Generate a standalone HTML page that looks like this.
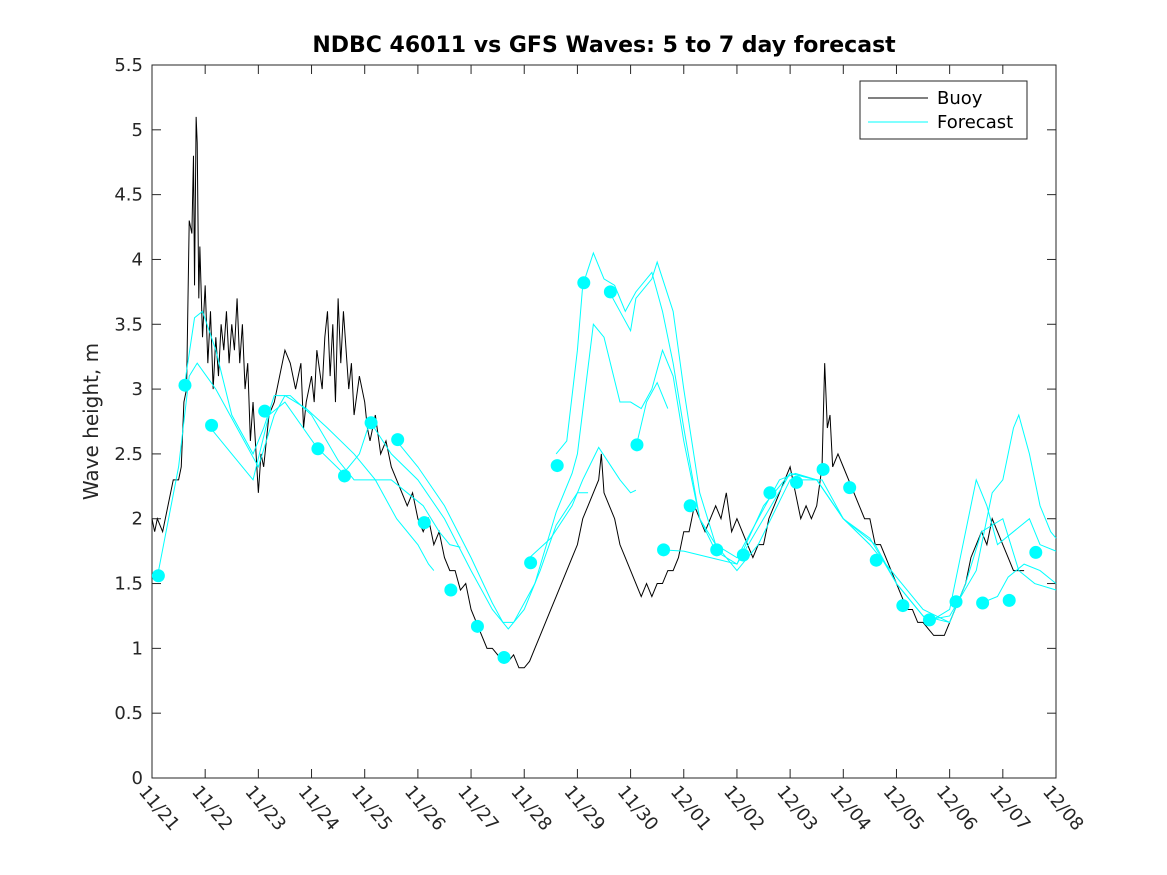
<!DOCTYPE html>
<html><head><meta charset="utf-8"><style>
body{margin:0;background:#fff;}
svg{display:block;font-family:"DejaVu Sans","Liberation Sans",sans-serif;}
</style></head><body>
<svg id="chart" width="1167" height="875"></svg>
<script>
const dateLabels=["11/21","11/22","11/23","11/24","11/25","11/26","11/27","11/28","11/29","11/30","12/01","12/02","12/03","12/04","12/05","12/06","12/07","12/08"];
const yTicks=[0,0.5,1,1.5,2,2.5,3,3.5,4,4.5,5,5.5];
const buoyDays=[0,0.05,0.1,0.2,0.3,0.4,0.5,0.55,0.6,0.65,0.7,0.75,0.78,0.8,0.83,0.85,0.88,0.9,0.95,1.0,1.05,1.1,1.15,1.2,1.25,1.3,1.35,1.4,1.45,1.5,1.55,1.6,1.65,1.7,1.75,1.8,1.85,1.9,2.0,2.05,2.1,2.2,2.3,2.4,2.5,2.6,2.7,2.8,2.85,2.9,3.0,3.05,3.1,3.2,3.25,3.3,3.35,3.4,3.45,3.5,3.55,3.6,3.7,3.75,3.8,3.9,4.0,4.05,4.1,4.2,4.3,4.4,4.5,4.6,4.7,4.8,4.9,5.0,5.1,5.2,5.3,5.4,5.5,5.6,5.7,5.8,5.9,6.0,6.1,6.2,6.3,6.4,6.5,6.6,6.7,6.8,6.9,7.0,7.1,7.2,7.3,7.4,7.5,7.6,7.7,7.8,7.9,8.0,8.1,8.2,8.3,8.4,8.45,8.5,8.6,8.7,8.8,8.9,9.0,9.1,9.2,9.3,9.4,9.5,9.6,9.7,9.8,9.9,10.0,10.1,10.2,10.3,10.4,10.5,10.6,10.7,10.8,10.9,11.0,11.1,11.2,11.3,11.4,11.5,11.6,11.7,11.8,11.9,12.0,12.1,12.2,12.3,12.4,12.5,12.6,12.65,12.7,12.75,12.8,12.9,13.0,13.1,13.2,13.3,13.4,13.5,13.6,13.7,13.8,13.9,14.0,14.1,14.2,14.3,14.4,14.5,14.6,14.7,14.8,14.9,15.0,15.1,15.2,15.3,15.4,15.5,15.6,15.7,15.8,15.9,16.0,16.1,16.2,16.3,16.4,16.5];
const buoyVals=[2.0,1.9,2.0,1.9,2.1,2.3,2.3,2.4,2.9,3.0,4.3,4.2,4.8,3.8,5.1,4.9,3.7,4.1,3.4,3.8,3.2,3.6,3.0,3.4,3.1,3.5,3.3,3.6,3.2,3.5,3.3,3.7,3.2,3.5,3.0,3.2,2.6,2.9,2.2,2.5,2.4,2.8,2.9,3.1,3.3,3.2,3.0,3.2,2.7,2.9,3.1,2.9,3.3,3.0,3.4,3.6,3.1,3.5,2.9,3.7,3.2,3.6,3.0,3.2,2.8,3.1,2.9,2.7,2.6,2.8,2.5,2.6,2.4,2.3,2.2,2.1,2.2,2.0,1.9,2.0,1.8,1.9,1.7,1.6,1.6,1.45,1.5,1.3,1.2,1.1,1.0,1.0,0.95,0.9,0.9,0.95,0.85,0.85,0.9,1.0,1.1,1.2,1.3,1.4,1.5,1.6,1.7,1.8,2.0,2.1,2.2,2.3,2.5,2.2,2.1,2.0,1.8,1.7,1.6,1.5,1.4,1.5,1.4,1.5,1.5,1.6,1.6,1.7,1.9,1.9,2.1,2.0,1.9,2.0,2.1,2.0,2.2,1.9,2.0,1.9,1.8,1.7,1.8,1.8,2.0,2.1,2.2,2.3,2.4,2.2,2.0,2.1,2.0,2.1,2.4,3.2,2.7,2.8,2.4,2.5,2.4,2.3,2.2,2.1,2.0,2.0,1.8,1.8,1.7,1.6,1.5,1.4,1.3,1.3,1.2,1.2,1.15,1.1,1.1,1.1,1.2,1.3,1.4,1.5,1.7,1.8,1.9,1.8,2.0,1.9,1.8,1.7,1.6,1.6,1.6];
const fc1=[[0.1,1.55],[0.5,2.4],[0.7,3.1],[0.85,3.2],[1.2,3.0],[1.6,2.7],[2.0,2.4],[2.3,2.8],[2.5,2.95],[2.9,2.85],[3.3,2.7],[3.8,2.5],[4.2,2.3],[4.6,2.0],[5.0,1.8],[5.2,1.65],[5.3,1.6]];
const fc2=[[0.6,3.0],[0.8,3.55],[0.95,3.6],[1.2,3.3],[1.5,2.8],[1.9,2.5],[2.1,2.7],[2.3,2.95],[2.6,2.95],[3.0,2.8],[3.5,2.45],[3.8,2.3],[4.2,2.3],[4.5,2.3],[4.8,2.2],[5.1,2.1],[5.4,1.9],[5.6,1.8],[5.8,1.78]];
const fc3=[[1.1,2.7],[1.5,2.5],[1.9,2.3],[2.2,2.8],[2.5,2.9],[3.1,2.55],[3.6,2.35],[3.9,2.5],[4.1,2.75],[4.5,2.5],[5.0,2.3],[5.5,2.0],[6.0,1.6],[6.4,1.3],[6.7,1.15],[7.0,1.3],[7.3,1.6],[7.6,1.95],[8.0,2.2],[8.2,2.2]];
const fc4=[[4.6,2.6],[5.0,2.4],[5.5,2.1],[6.0,1.7],[6.4,1.35],[6.6,1.2],[6.8,1.2],[7.2,1.5],[7.6,2.05],[7.9,2.35],[8.0,2.5],[8.3,3.5],[8.5,3.4],[8.8,2.9],[9.0,2.9],[9.2,2.85],[9.4,3.0],[9.6,3.3],[9.8,3.1],[10.0,2.6],[10.3,2.0],[10.6,1.8],[11.0,1.7],[11.4,2.0],[11.8,2.3],[12.1,2.35],[12.5,2.3],[13.0,2.0],[13.5,1.8]];
const fc5=[[7.1,1.7],[7.5,1.85],[7.9,2.1],[8.1,2.3],[8.4,2.55],[8.8,2.3],[9.0,2.2],[9.1,2.22]];
const fc6=[[7.6,2.5],[7.8,2.6],[8.0,3.3],[8.1,3.8],[8.3,4.05],[8.5,3.85],[8.7,3.8],[8.9,3.6],[9.1,3.75],[9.4,3.9],[9.6,3.6],[9.8,3.2],[10.0,2.7],[10.3,2.0],[10.6,1.75],[11.0,1.65],[11.5,2.0],[12.0,2.35],[12.5,2.3],[13.0,2.0],[13.5,1.8],[14.0,1.55],[14.5,1.3],[15.0,1.2]];
const fc7=[[8.6,3.75],[8.8,3.6],[9.0,3.45],[9.1,3.7],[9.4,3.85],[9.5,3.98],[9.8,3.6],[10.0,3.0],[10.3,2.2],[10.6,1.8],[11.0,1.6],[11.4,1.8],[12.0,2.3],[12.6,2.3],[13.0,2.0],[13.6,1.8],[14.0,1.5],[14.6,1.2],[15.0,1.3],[15.3,1.9],[15.5,2.3],[15.7,2.1],[15.9,1.8],[16.2,1.9],[16.5,2.0],[16.7,1.8],[17,1.75]];
const fc8=[[9.1,2.55],[9.3,2.9],[9.5,3.05],[9.6,2.95],[9.7,2.85]];
const fc9=[[9.6,1.76],[10.0,1.75],[10.5,1.7],[11.0,1.65],[11.5,2.1],[12.0,2.35],[12.5,2.3],[13.0,2.0],[13.5,1.85],[14.0,1.5],[14.5,1.25],[15.0,1.2],[15.3,1.5],[15.6,1.9],[16.0,2.0],[16.3,1.6],[16.6,1.5],[17,1.45]];
const fc10=[[14.6,1.22],[15.0,1.25],[15.5,1.6],[15.8,2.2],[16.0,2.3],[16.2,2.7],[16.3,2.8],[16.5,2.5],[16.7,2.1],[16.9,1.9],[17,1.85]];
const fc11=[[15.6,1.35],[15.9,1.4],[16.1,1.55],[16.4,1.65],[16.7,1.6],[17,1.5]];
const forecasts=[fc1,fc2,fc3,fc4,fc5,fc6,fc7,fc8,fc9,fc10,fc11];
const dotDays=[0.12,0.62,1.12,2.12,3.12,3.62,4.12,4.62,5.12,5.62,6.12,6.62,7.12,7.62,8.12,8.62,9.12,9.62,10.12,10.62,11.12,11.62,12.12,12.62,13.12,13.62,14.12,14.62,15.12,15.62,16.12,16.62];
const dotVals=[1.56,3.03,2.72,2.83,2.54,2.33,2.74,2.61,1.97,1.45,1.17,0.93,1.66,2.41,3.82,3.75,2.57,1.76,2.10,1.76,1.72,2.20,2.28,2.38,2.24,1.68,1.33,1.22,1.36,1.35,1.37,1.74];

const L=152,R=1056,T=65,B=778;
const xs=d=>L+(R-L)*d/17;
const ys=v=>B-(B-T)*v/5.5;
const NS="http://www.w3.org/2000/svg";
const svg=document.getElementById('chart');
function mk(tag,attrs,parent){const e=document.createElementNS(NS,tag);for(const k in attrs)e.setAttribute(k,attrs[k]);(parent||svg).appendChild(e);return e;}

const axes=mk('rect',{x:L,y:T,width:R-L,height:B-T,fill:'#fff',stroke:'#262626','stroke-width':1});



yTicks.forEach(v=>{
  const y=ys(v);
  mk('line',{x1:L,x2:L+9,y1:y,y2:y,stroke:'#262626'});
  mk('line',{x1:R,x2:R-9,y1:y,y2:y,stroke:'#262626'});
  const t=mk('text',{x:L-9,y:y+6,'text-anchor':'end','font-size':18,fill:'#262626'});
  t.textContent=String(v);
  
  
});
dateLabels.forEach((s,i)=>{
  const x=xs(i);
  mk('line',{x1:x,x2:x,y1:B,y2:B-9,stroke:'#262626'});
  mk('line',{x1:x,x2:x,y1:T,y2:T+9,stroke:'#262626'});
  const t=mk('text',{x:x-14,y:B+14,'font-size':18,fill:'#262626',transform:`rotate(50 ${x-14} ${B+14})`});
  t.textContent=s;
  
  
});

const bp=mk('polyline',{points:buoyDays.map((d,i)=>xs(d)+','+ys(buoyVals[i])).join(' '),fill:'none',stroke:'#000','stroke-width':1});



forecasts.forEach(f=>{
  const p=mk('polyline',{points:f.map(q=>xs(q[0])+','+ys(q[1])).join(' '),fill:'none',stroke:'#00ffff','stroke-width':1});
  
  
});
dotDays.forEach((d,i)=>{
  const c=mk('circle',{cx:xs(d),cy:ys(dotVals[i]),r:6.5,fill:'#00ffff'});
  
  
});

const title=mk('text',{x:(L+R)/2,y:52,'text-anchor':'middle','font-size':22,'font-weight':'bold',fill:'#000'});
title.textContent='NDBC 46011 vs GFS Waves: 5 to 7 day forecast';


const yl=mk('text',{x:98,y:(T+B)/2,'text-anchor':'middle','font-size':20,fill:'#262626',transform:`rotate(-90 98 ${(T+B)/2})`});
yl.textContent='Wave height, m';



const lg=mk('g',{});


mk('rect',{x:860,y:81,width:167,height:58,fill:'#fff',stroke:'#262626'},lg);
mk('line',{x1:868,x2:928,y1:98,y2:98,stroke:'#000'},lg);
mk('line',{x1:868,x2:928,y1:122,y2:122,stroke:'#00ffff'},lg);
const t1=mk('text',{x:937,y:104,'font-size':18,fill:'#000'},lg);t1.textContent='Buoy';


const t2=mk('text',{x:937,y:128,'font-size':18,fill:'#000'},lg);t2.textContent='Forecast';


</script>
</body></html>
